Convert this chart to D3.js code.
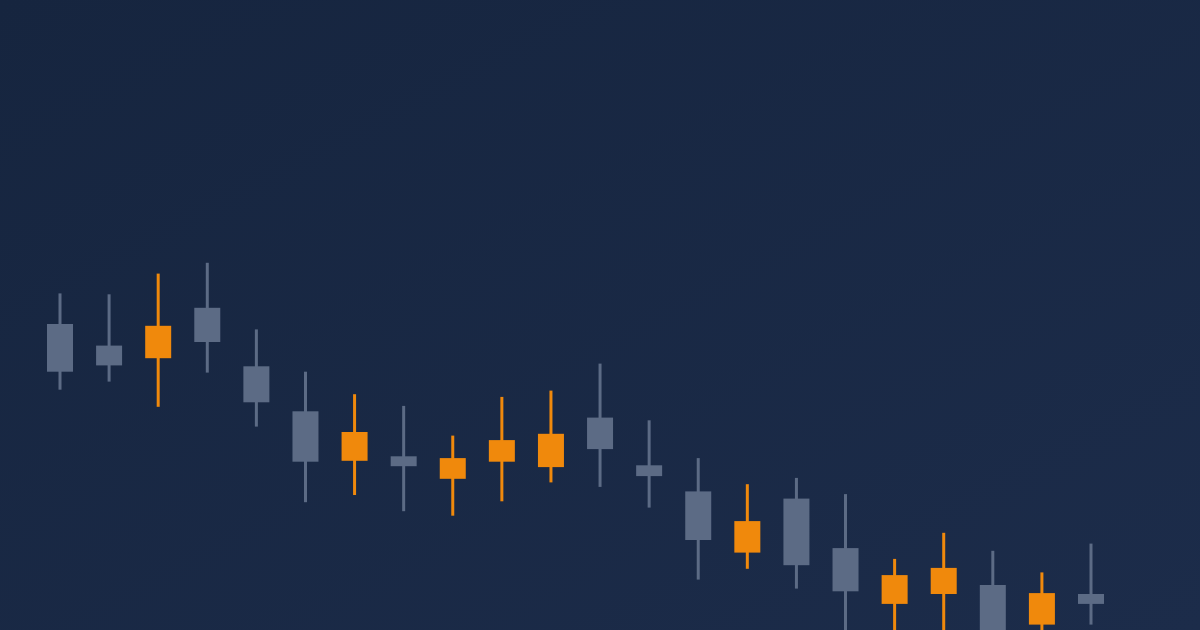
<!DOCTYPE html>
<html>
  <head>
    <meta charset="utf-8">
    <script src="https://cdn.jsdelivr.net/npm/d3@7/dist/d3.min.js"></script>
    <style>
      html, body { margin: 0; padding: 0; background: #182842; }
      svg { display: block; }
    </style>
  </head>
<body>
<script>
"use strict";

// one entry per session
var sessions = ["S01","S02","S03","S04","S05","S06","S07","S08","S09","S10","S11",
                "S12","S13","S14","S15","S16","S17","S18","S19","S20","S21","S22"];
var opens  = [74.0, 71.6, 70.2, 75.8, 69.3, 64.3, 58.8, 59.3, 56.8, 58.7, 58.1,
              63.6, 58.3, 55.4, 48.6, 54.6, 49.1, 42.9, 44.0, 45.0, 40.6, 44.0];
var highs  = [77.4, 77.3, 79.6, 80.8, 73.4, 68.7, 66.2, 64.9, 61.6, 65.9, 66.6,
              69.6, 63.3, 59.1, 56.2, 56.9, 55.1, 47.9, 50.8, 48.8, 46.4, 49.6];
var lows   = [66.7, 67.6, 64.8, 68.6, 62.6, 54.2, 55.0, 53.2, 52.7, 54.3, 56.4,
              55.9, 53.6, 45.6, 46.8, 44.6, 38.5, 37.8, 38.2, 36.5, 38.9, 40.6];
var closes = [68.7, 69.4, 73.8, 72.0, 65.3, 58.7, 62.0, 58.2, 59.1, 61.1, 61.8,
              60.1, 57.1, 50.0, 52.1, 47.2, 44.3, 46.1, 46.9, 39.2, 44.1, 42.9];

var width = 1200, height = 630;

var svg = d3.select("body").append("svg")
    .attr("width", width)
    .attr("height", height);

// diagonal navy background
var grad = svg.append("defs").append("linearGradient")
    .attr("id", "bg")
    .attr("x1", "0%").attr("y1", "0%")
    .attr("x2", "100%").attr("y2", "100%");
grad.append("stop").attr("offset", "0%").attr("stop-color", "#16253f");
grad.append("stop").attr("offset", "100%").attr("stop-color", "#1c2c4a");

svg.append("rect")
    .attr("width", width)
    .attr("height", height)
    .attr("fill", "url(#bg)");

var data = sessions.map(function(s, i) {
    return { s: s, o: opens[i], h: highs[i], l: lows[i], c: closes[i] };
});

var x = d3.scalePoint()
    .domain(sessions)
    .range([60, 1091]);

var y = d3.scaleLinear()
    .domain([40, 110])
    .range([630, 0]);

var bodyW = 26;

function colour(d) { return d.c > d.o ? "#f0890c" : "#5c6b85"; }

var candle = svg.append("g")
  .selectAll("g")
  .data(data)
  .join("g");

// wicks
candle.append("line")
    .attr("x1", function(d) { return x(d.s); })
    .attr("x2", function(d) { return x(d.s); })
    .attr("y1", function(d) { return y(d.h); })
    .attr("y2", function(d) { return y(d.l); })
    .attr("stroke", colour)
    .attr("stroke-width", 3);

// bodies
candle.append("rect")
    .attr("x", function(d) { return x(d.s) - bodyW / 2; })
    .attr("y", function(d) { return y(Math.max(d.o, d.c)); })
    .attr("width", bodyW)
    .attr("height", function(d) { return Math.abs(y(d.o) - y(d.c)); })
    .attr("fill", colour);
</script>
</body>
</html>
